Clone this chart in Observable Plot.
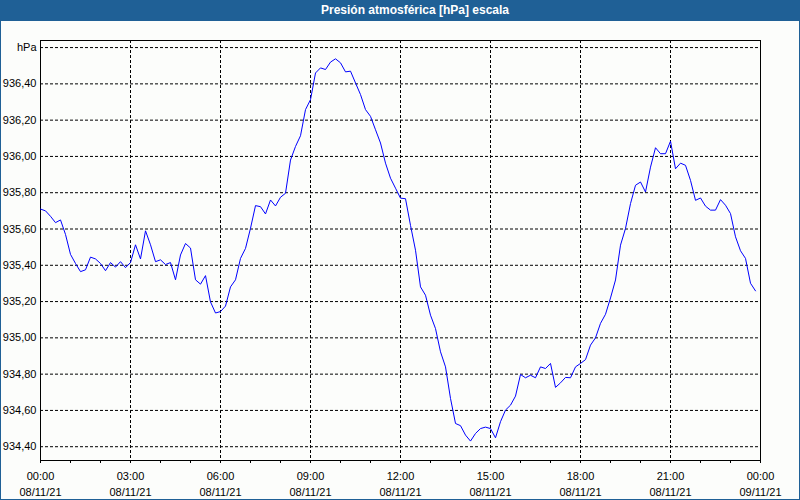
<!DOCTYPE html>
<html><head><meta charset="utf-8">
<script src="https://cdn.jsdelivr.net/npm/d3@7"></script>
<script src="https://cdn.jsdelivr.net/npm/@observablehq/plot@0.6"></script>
<style>
html,body{margin:0;padding:0;background:#fcfdfb;}
#wrap{position:relative;width:800px;height:500px;overflow:hidden;background:#fcfdfb;font-family:"Liberation Sans",Arial,sans-serif;}
#title{position:absolute;left:0;top:0;width:800px;height:21px;background:#1f6096;}
#title span{position:absolute;left:415px;top:0;line-height:21px;transform:translateX(-50%);color:#fff;font-weight:bold;font-size:12px;white-space:nowrap;}
#chart{position:absolute;left:0;top:21px;}
#border{position:absolute;left:0;top:0;width:800px;height:500px;box-sizing:border-box;border:1px solid #1f6096;pointer-events:none;}
</style></head>
<body>
<div id="wrap">
  <div id="title"><span>Presión atmosférica [hPa] escala</span></div>
  <div id="chart"></div>
  <div id="border"></div>
</div>
<script>
const titleText = "Presión atmosférica [hPa] escala";

const times = [
"00:00","00:10","00:20","00:30","00:40","00:50",
"01:00","01:10","01:20","01:30","01:40","01:50",
"02:00","02:10","02:20","02:30","02:40","02:50",
"03:00","03:10","03:20","03:30","03:40","03:50",
"04:00","04:10","04:20","04:30","04:40","04:50",
"05:00","05:10","05:20","05:30","05:40","05:50",
"06:00","06:10","06:20","06:30","06:40","06:50",
"07:00","07:10","07:20","07:30","07:40","07:50",
"08:00","08:10","08:20","08:30","08:40","08:50",
"09:00","09:10","09:20","09:30","09:40","09:50",
"10:00","10:10","10:20","10:30","10:40","10:50",
"11:00","11:10","11:20","11:30","11:40","11:50",
"12:00","12:10","12:20","12:30","12:40","12:50",
"13:00","13:10","13:20","13:30","13:40","13:50",
"14:00","14:10","14:20","14:30","14:40","14:50",
"15:00","15:10","15:20","15:30","15:40","15:50",
"16:00","16:10","16:20","16:30","16:40","16:50",
"17:00","17:10","17:20","17:30","17:40","17:50",
"18:00","18:10","18:20","18:30","18:40","18:50",
"19:00","19:10","19:20","19:30","19:40","19:50",
"20:00","20:10","20:20","20:30","20:40","20:50",
"21:00","21:10","21:20","21:30","21:40","21:50",
"22:00","22:10","22:20","22:30","22:40","22:50",
"23:00","23:10","23:20","23:30","23:40","23:50"
];

const pressure = [
935.71,935.70,935.67,935.635,935.65,935.57,
935.46,935.41,935.365,935.375,935.445,935.435,
935.41,935.37,935.415,935.39,935.42,935.387,
935.415,935.513,935.435,935.59,935.513,935.42,
935.43,935.404,935.415,935.32,935.457,935.52,
935.495,935.32,935.296,935.343,935.198,935.137,
935.145,935.175,935.281,935.32,935.438,935.493,
935.604,935.729,935.723,935.683,935.76,935.727,
935.775,935.797,935.98,936.055,936.114,936.258,
936.313,936.46,936.488,936.479,936.52,936.538,
936.516,936.466,936.47,936.405,936.341,936.258,
936.221,936.147,936.074,935.963,935.88,935.825,
935.77,935.767,935.62,935.483,935.281,935.235,
935.125,935.051,934.923,934.84,934.666,934.528,
934.516,934.464,934.431,934.473,934.50,934.508,
934.50,934.449,934.538,934.602,934.629,934.679,
934.798,934.78,934.794,934.78,934.84,934.831,
934.859,934.727,934.752,934.782,934.78,934.84,
934.859,934.88,934.96,935.00,935.08,935.13,
935.22,935.319,935.511,935.603,935.74,935.841,
935.859,935.804,935.941,936.048,936.015,936.015,
936.084,935.932,935.963,935.951,935.868,935.758,
935.771,935.726,935.704,935.704,935.762,935.731,
935.685,935.557,935.48,935.438,935.301,935.259
];

const yTicks = [934.4,934.6,934.8,935.0,935.2,935.4,935.6,935.8,936.0,936.2,936.4,936.6];
const yTickLabels = ["934,40","934,60","934,80","935,00","935,20","935,40","935,60","935,80","936,00","936,20","936,40","hPa"];
const xMinorTicks = [0,1,2,3,4,5,6,7,8,9,10,11,12,13,14,15,16,17,18,19,20,21,22,23,24];
const xTickHours = [0,3,6,9,12,15,18,21,24];
const xTickTimes = ["00:00","03:00","06:00","09:00","12:00","15:00","18:00","21:00","00:00"];
const xTickDates = ["08/11/21","08/11/21","08/11/21","08/11/21","08/11/21","08/11/21","08/11/21","08/11/21","09/11/21"];
const xGridHours = [3,6,9,12,15,18,21];

const toHours = t => { const [h, m] = t.split(":").map(Number); return h + m / 60; };
const data = times.map((t, i) => ({h: toHours(t), v: pressure[i]}));

const chart = Plot.plot({
  width: 800, height: 479,
  marginLeft: 40, marginRight: 40, marginTop: 19, marginBottom: 40,
  style: {background: "transparent", fontFamily: "'Liberation Sans', Arial, sans-serif", fontSize: "11px", color: "#000"},
  x: {domain: [0, 24]},
  y: {domain: [934.324, 936.639]},
  marks: [
    Plot.gridY(yTicks, {stroke: "#000", strokeOpacity: 1, strokeDasharray: "3,2"}),
    Plot.gridX(xGridHours, {stroke: "#000", strokeOpacity: 1, strokeDasharray: "3,2"}),
    Plot.frame({stroke: "#000"}),
    Plot.axisY(yTicks, {tickSize: 0, tickPadding: 4, label: null, fontSize: 11,
      tickFormat: d => yTickLabels[yTicks.indexOf(d)]}),
    Plot.axisX(xMinorTicks, {tickSize: 3, label: null, tickFormat: () => "", stroke: "#000"}),
    Plot.axisX(xTickHours, {tickSize: 0, tickPadding: 9, label: null, fontSize: 11, lineHeight: 1.39,
      tickFormat: d => { const i = xTickHours.indexOf(d); return xTickTimes[i] + "\n" + xTickDates[i]; }}),
    Plot.line(data, {x: "h", y: "v", stroke: "#0000ff", strokeWidth: 1})
  ]
});
document.getElementById("chart").appendChild(chart);
</script>
</body></html>
